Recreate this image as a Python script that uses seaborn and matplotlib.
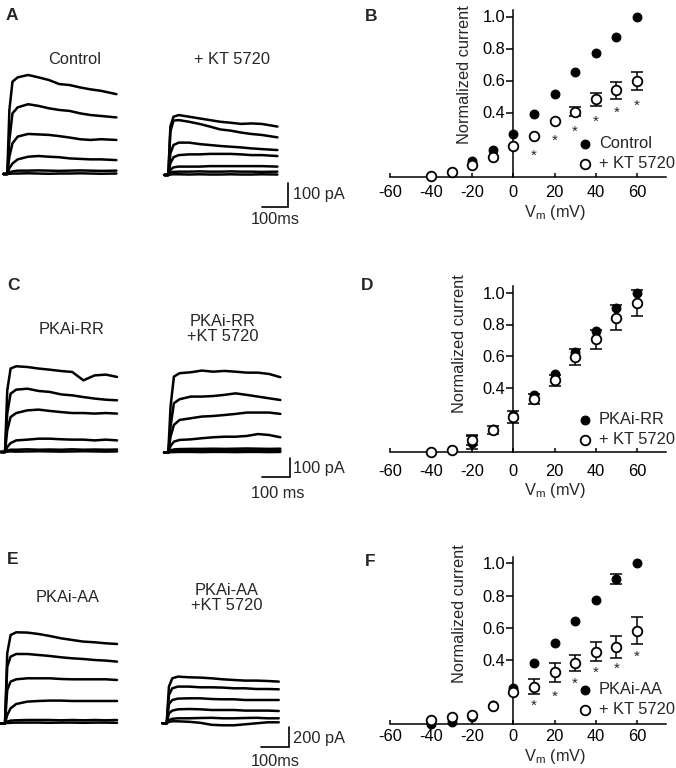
import numpy as np
import matplotlib
matplotlib.use("Agg")
import matplotlib.pyplot as plt
import seaborn as sns

sns.set_theme(style="ticks")
plt.rcParams["font.family"] = ["Liberation Sans", "DejaVu Sans"]
plt.rcParams["axes.unicode_minus"] = False
plt.rcParams["mathtext.default"] = "regular"

W, H = 676, 768
FS = 11.8

# ---- I-V data (normalized current) ----
vm = [-40, -30, -20, -10, 0, 10, 20, 30, 40, 50, 60]
star_vm = [10, 20, 30, 40, 50, 60]

b_ctrl = [0.005, 0.03, 0.094, 0.163, 0.267, 0.388, 0.517, 0.656, 0.773, 0.875, 1.0]
b_ctrl_err = [0, 0, 0, 0, 0, 0, 0, 0, 0, 0, 0]
b_kt = [0.006, 0.03, 0.073, 0.12, 0.19, 0.256, 0.344, 0.406, 0.483, 0.538, 0.596]
b_kt_err = [0.005, 0.01, 0.01, 0.01, 0.01, 0.015, 0.02, 0.03, 0.04, 0.055, 0.056]
b_stars = [0.158, 0.25, 0.31, 0.37, 0.427, 0.47]

d_rr = [0.0, 0.01, 0.056, 0.14, 0.228, 0.354, 0.49, 0.63, 0.756, 0.903, 1.0]
d_rr_err = [0.005, 0.01, 0.04, 0.02, 0.02, 0.02, 0.02, 0.02, 0.015, 0.021, 0.01]
d_kt = [0.0, 0.012, 0.075, 0.138, 0.217, 0.333, 0.448, 0.595, 0.706, 0.843, 0.935]
d_kt_err = [0.01, 0.02, 0.03, 0.025, 0.037, 0.03, 0.035, 0.048, 0.058, 0.08, 0.082]

f_aa = [0.0, 0.013, 0.045, 0.12, 0.224, 0.383, 0.507, 0.642, 0.772, 0.903, 1.0]
f_aa_err = [0.005, 0.005, 0.01, 0.01, 0.01, 0.01, 0.01, 0.01, 0.01, 0.03, 0.01]
f_kt = [0.027, 0.048, 0.058, 0.116, 0.203, 0.234, 0.323, 0.379, 0.451, 0.482, 0.582]
f_kt_err = [0.01, 0.01, 0.01, 0.01, 0.01, 0.048, 0.06, 0.05, 0.058, 0.07, 0.082]
f_stars = [0.145, 0.203, 0.281, 0.348, 0.375, 0.451]

# ---- current traces (pA), sampled at these times (ms from step onset) ----
t_a = [-15, 0, 8, 20, 40, 80, 120, 160, 200, 240, 280, 320, 360, 420]
t_ce = [-15, 0, 8, 20, 40, 80, 120, 160, 200, 240, 280, 320, 360, 400]

a_ctrl = [
    [0, 0, 267, 385, 403, 413, 403, 392, 375, 371, 361, 353, 347, 333],
    [0, 0, 142, 253, 278, 291, 284, 274, 267, 263, 253, 246, 242, 236],
    [0, 0, 72, 128, 156, 167, 165, 163, 158, 152, 145, 142, 145, 142],
    [0, 0, 24, 44, 61, 72, 75, 72, 70, 65, 63, 61, 61, 58],
    [0, 0, 6, 11, 14, 14, 15, 14, 13, 14, 15, 14, 13, 14],
    [0, 0, 1, 2, 2, 3, 2, 1, 2, 2, 3, 2, 1, 2],
]
a_kt = [
    [0, 0, 202, 243, 250, 243, 236, 229, 222, 218, 213, 215, 213, 202],
    [0, 0, 181, 227, 229, 222, 213, 202, 190, 185, 177, 171, 167, 157],
    [0, 0, 90, 125, 135, 135, 129, 125, 121, 118, 115, 111, 108, 104],
    [0, 0, 49, 74, 83, 86, 86, 88, 88, 88, 86, 83, 83, 79],
    [0, 0, 21, 32, 35, 35, 35, 37, 37, 37, 37, 37, 37, 35],
    [0, 0, 10, 13, 14, 14, 15, 14, 14, 15, 14, 14, 13, 14],
    [0, 0, 2, 3, 3, 2, 3, 2, 2, 3, 2, 2, 3, 2],
]
c_rr = [
    [0, 0, 324, 439, 451, 447, 439, 433, 426, 421, 377, 403, 407, 395],
    [0, 0, 202, 307, 328, 333, 321, 316, 303, 298, 289, 281, 275, 272],
    [0, 0, 114, 184, 205, 219, 223, 216, 210, 205, 205, 202, 205, 202],
    [0, 0, 26, 47, 61, 65, 70, 70, 67, 65, 65, 61, 65, 61],
    [0, 0, 8, 12, 12, 14, 12, 13, 12, 14, 12, 13, 12, 13],
    [0, 0, 2, 3, 2, 3, 4, 3, 2, 3, 4, 3, 2, 3],
]
c_kt = [
    [0, 0, 240, 398, 416, 421, 430, 424, 428, 424, 419, 419, 412, 395],
    [0, 0, 135, 258, 279, 293, 293, 296, 302, 310, 302, 293, 284, 275],
    [0, 0, 82, 144, 170, 179, 188, 191, 196, 202, 209, 209, 209, 202],
    [0, 0, 33, 56, 65, 68, 74, 79, 82, 82, 86, 96, 91, 79],
    [0, 0, 10, 15, 17, 18, 18, 19, 18, 19, 20, 19, 18, 19],
    [0, 0, 4, 6, 8, 8, 9, 8, 9, 9, 10, 9, 9, 9],
    [0, 0, 1, 1, 2, 2, 1, 2, 2, 1, 2, 2, 1, 2],
]
e_aa = [
    [0, 0, 700, 883, 910, 907, 893, 873, 850, 833, 817, 810, 800, 793],
    [0, 0, 567, 667, 693, 693, 683, 673, 660, 650, 643, 633, 627, 617],
    [0, 0, 333, 417, 440, 450, 450, 450, 443, 440, 440, 440, 440, 433],
    [0, 0, 83, 150, 193, 217, 223, 227, 227, 223, 223, 223, 223, 223],
    [0, 0, 17, 27, 30, 33, 33, 33, 30, 33, 30, 33, 30, 33],
    [0, 0, 3, 5, 7, 7, 7, 5, 7, 7, 5, 7, 7, 5],
]
e_kt = [
    [0, 0, 367, 450, 467, 460, 457, 450, 440, 433, 427, 427, 423, 417],
    [0, 0, 283, 350, 367, 367, 360, 360, 357, 350, 350, 343, 343, 340],
    [0, 0, 193, 233, 247, 250, 250, 243, 240, 240, 233, 233, 233, 233],
    [0, 0, 100, 127, 140, 143, 140, 133, 133, 133, 127, 127, 127, 123],
    [0, 0, 33, 45, 50, 50, 53, 55, 50, 50, 53, 55, 50, 50],
    [0, 0, 15, 20, 20, 15, 5, -15, -20, -20, -10, 0, 10, 10],
]

fig = plt.figure(figsize=(W / 100, H / 100), dpi=100)


def px_axes(x0, y0, x1, y1):
    return fig.add_axes([x0 / W, 1 - y1 / H, (x1 - x0) / W, (y1 - y0) / H])


def ftext(x, y, s, **kw):
    fig.text(x / W, 1 - y / H, s, **kw)


# ---- trace panels ----
def trace_row(top, bottom, ms_px, pa_px, base, groups, bar, bar_pa, t):
    ax = px_axes(0, top, 338, bottom)
    ax.set_xlim(0, 338 * ms_px)
    ax.set_ylim((base - bottom) * pa_px, (base - top) * pa_px)
    ax.axis("off")
    for onset, gbase, traces in groups:
        for tr in traces:
            sns.lineplot(x=np.array(t) + onset * ms_px,
                         y=np.array(tr) + (base - gbase) * pa_px,
                         ax=ax, color="black", lw=1.8, estimator=None, sort=False)
    cx, cy = bar[0] * ms_px, (base - bar[1]) * pa_px
    ax.plot([cx - 100, cx, cx], [cy, cy, cy + bar_pa], color="black", lw=1.2,
            solid_joinstyle="miter")
    return ax


trace_row(30, 235, 3.85, 4.17, 174, [(7.3, 174, a_ctrl), (168.3, 175, a_kt)],
          (288, 207), 100, t_a)
ftext(293, 195, "100 pA", fontsize=FS, va="center")
ftext(275, 220, "100ms", fontsize=FS, va="center", ha="center")
ftext(75, 59, "Control", fontsize=FS, ha="center", va="center")
ftext(232, 59, "+ KT 5720", fontsize=FS, ha="center", va="center")

trace_row(300, 505, 3.57, 5.26, 452, [(5, 452, c_rr), (168.3, 452.3, c_kt)],
          (290, 477), 100, t_ce)
ftext(293, 468, "100 pA", fontsize=FS, va="center")
ftext(278, 493, "100 ms", fontsize=FS, va="center", ha="center")
ftext(72, 329, "PKAi-RR", fontsize=FS, ha="center", va="center")
ftext(223, 329, "PKAi-RR\n+KT 5720", fontsize=FS, ha="center", va="center",
      linespacing=1.05)

trace_row(560, 768, 3.57, 10.0, 723.3, [(5, 723.3, e_aa), (166.7, 723.3, e_kt)],
          (289, 747), 200, t_ce)
ftext(293, 739, "200 pA", fontsize=FS, va="center")
ftext(275, 761, "100ms", fontsize=FS, va="center", ha="center")
ftext(68, 598, "PKAi-AA", fontsize=FS, ha="center", va="center")
ftext(227, 598, "PKAi-AA\n+KT 5720", fontsize=FS, ha="center", va="center",
      linespacing=1.05)


def draw_err(ax, y, err, z):
    # bars hidden inside the marker in the original are not drawn
    keep = [i for i, e in enumerate(err) if e > 0.022]
    if keep:
        ax.errorbar([vm[i] for i in keep], [y[i] for i in keep],
                    yerr=[err[i] for i in keep], fmt="none", ecolor="black",
                    elinewidth=1.1, capsize=4.5, capthick=1.1, zorder=z)


# ---- I-V panels ----
def iv_panel(y0, p01, filled, ferr, opened, oerr, stars, labels, leg_y,
             tick_pad, xlab_dy, ylab_x, ylab_y):
    top = y0 - 10.4 * p01
    ax = px_axes(389.7, top, 665.8, y0)
    draw_err(ax, filled, ferr, 2)
    sns.scatterplot(x=vm, y=filled, ax=ax, color="black", edgecolor="black",
                    s=40, linewidth=0.8, label=labels[0], zorder=3, clip_on=False)
    draw_err(ax, opened, oerr, 4)
    sns.scatterplot(x=vm, y=opened, ax=ax, color="white", edgecolor="black",
                    s=48, linewidth=1.3, label=labels[1], zorder=5, clip_on=False)
    if stars is not None:
        for x, y in zip(star_vm, stars):
            ax.annotate("*", (x, y), xytext=(0, -6.3), textcoords="offset points",
                        ha="center", va="baseline", fontsize=11)
    ax.set_xlim(-60, 74)
    ax.set_ylim(0, 1.04)
    ax.spines["left"].set_position(("data", 0))
    ax.spines[["top", "right"]].set_visible(False)
    for sp in ("left", "bottom"):
        ax.spines[sp].set_linewidth(1.1)
        ax.spines[sp].set_color("black")
    ax.set_xticks([-60, -40, -20, 0, 20, 40, 60])
    ax.set_yticks([0.4, 0.6, 0.8, 1.0])
    ax.set_yticklabels(["0.4", "0.6", "0.8", "1.0"])
    ax.tick_params(axis="x", direction="in", length=3, width=1.1, pad=tick_pad,
                   labelsize=FS, colors="black")
    ax.tick_params(axis="y", direction="out", length=5, width=1.1, pad=1,
                   labelsize=FS, colors="black")
    ax.set_xlabel("")
    ax.set_ylabel("")
    ax.text(0.599, -xlab_dy / (y0 - top), "V$_{m}$ (mV)", transform=ax.transAxes,
            ha="center", va="center", fontsize=FS)
    ax.text(ylab_x, ylab_y, "Normalized current", rotation=90, ha="center",
            va="center", fontsize=FS, clip_on=False)
    ax.legend(loc="center left", bbox_to_anchor=(31.5, leg_y),
              bbox_transform=ax.transData, frameon=False, handlelength=0.8,
              handletextpad=0.45, borderpad=0, borderaxespad=0,
              labelspacing=0.3, fontsize=FS)
    return ax


iv_panel(176.5, 16.0, b_ctrl, b_ctrl_err, b_kt, b_kt_err, b_stars,
         ["Control", "+ KT 5720"], 0.143, 6, 35.5, -23.8, 0.635)
iv_panel(451.7, 15.9, d_rr, d_rr_err, d_kt, d_kt_err, None,
         ["PKAi-RR", "+ KT 5720"], 0.14, 9, 39, -26, 0.68)
iv_panel(724.4, 16.1, f_aa, f_aa_err, f_kt, f_kt_err, f_stars,
         ["PKAi-AA", "+ KT 5720"], 0.155, 3.5, 32, -26, 0.69)

# panel letters
for letter, x, y in [("A", 6, 16), ("B", 364.7, 16.7), ("C", 7.3, 286),
                     ("D", 361.3, 286), ("E", 7.3, 560), ("F", 364.7, 561.7)]:
    ftext(x, y, letter, fontsize=12.5, fontweight="bold", va="center")

fig.savefig("out.png", dpi=100)
